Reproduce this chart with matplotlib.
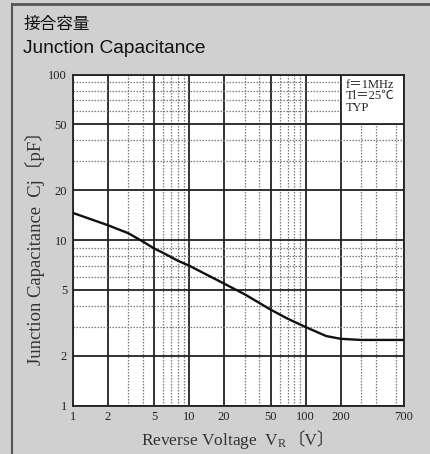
import matplotlib
matplotlib.use("Agg")
import matplotlib.pyplot as plt
from matplotlib.ticker import FixedLocator, NullFormatter, LogLocator
from matplotlib.patches import Rectangle

# data
voltage = [1, 2, 3, 4, 5, 6, 8, 10, 20, 30, 50, 70, 100, 150, 200, 300, 700]
capacitance = [14.6, 12.3, 11.0, 9.8, 8.9, 8.35, 7.5, 7.0, 5.45, 4.7, 3.8, 3.35, 2.98, 2.63, 2.53, 2.49, 2.49]
x_ticks = [1, 2, 5, 10, 20, 50, 100, 200, 700]
x_tick_labels = ["1", "2", "5", "10", "20", "50", "100", "200", "700"]
y_ticks = [1, 2, 5, 10, 20, 50, 100]
y_tick_labels = ["1", "2", "5", "10", "20", "50", "100"]
conditions = ["f＝1MHz", "Tl＝25℃", "TYP"]

plt.rcParams["mathtext.fontset"] = "custom"
plt.rcParams["mathtext.rm"] = "Liberation Serif"
plt.rcParams["mathtext.it"] = "Liberation Serif"

serif = ["Liberation Serif", "Noto Sans CJK JP", "DejaVu Serif"]
bg = "#d0d0d0"
W, H = 430, 454

fig = plt.figure(figsize=(W / 100, H / 100), dpi=100, facecolor=bg)
ax = fig.add_axes([0.169, 0.1068, 0.7705, 0.729])
ax.set_facecolor("white")
ax.set_xscale("log")
ax.set_yscale("log")
ax.set_xlim(1, 700)
ax.set_ylim(1, 100)

ax.xaxis.set_major_locator(FixedLocator(x_ticks))
ax.set_xticklabels(x_tick_labels)
ax.yaxis.set_major_locator(FixedLocator(y_ticks))
ax.set_yticklabels(y_tick_labels)
ax.xaxis.set_minor_locator(LogLocator(base=10, subs=[3, 4, 6, 7, 8, 9]))
ax.yaxis.set_minor_locator(LogLocator(base=10, subs=[3, 4, 6, 7, 8, 9]))
ax.xaxis.set_minor_formatter(NullFormatter())
ax.yaxis.set_minor_formatter(NullFormatter())
ax.tick_params(which="both", length=0)
ax.tick_params(axis="x", pad=4)
ax.tick_params(axis="y", pad=4)
for lab in ax.get_xticklabels() + ax.get_yticklabels():
    lab.set_family(serif)
    lab.set_fontsize(9)
    lab.set_color("#222222")

ax.set_axisbelow(True)
ax.grid(which="major", color="#222222", linewidth=1.3, linestyle="-")
ax.grid(which="minor", color="#7a7a7a", linewidth=0.9, linestyle=(0, (1.2, 1.2)))
for s in ax.spines.values():
    s.set_linewidth(1.3)
    s.set_color("#222222")

# white cell for the conditions text
ax.add_patch(Rectangle((200, 50), 500, 50, facecolor="white", edgecolor="#222222",
                       linewidth=1.3, zorder=0.8))

ax.plot(voltage, capacitance, color="#111111", linewidth=1.7, zorder=3)

ax.text(0.825, 0.988, "\n".join(conditions), transform=ax.transAxes, ha="left", va="top",
        fontsize=9, family=serif, color="#222222", linespacing=0.95, zorder=4)

fig.text(24 / W, 1 - 24 / H, "接合容量", family=["Noto Sans CJK JP", "DejaVu Sans"],
         fontsize=12, ha="left", va="center", color="#111111")
fig.text(23 / W, 1 - 53 / H, "Junction Capacitance", family=["Liberation Sans", "DejaVu Sans"],
         fontsize=13.8, ha="left", va="baseline", color="#111111")

# axis labels built from pieces (serif text + CJK brackets)
lab_color = "#333333"
xl1 = fig.text(0, 0, "Reverse Voltage  V$_\\mathregular{R}$", family=serif, fontsize=12,
               color=lab_color, ha="left", va="baseline")
xl2 = fig.text(0, 0, "〔V〕", family=serif, fontsize=12, color=lab_color,
               ha="left", va="baseline")
yl = fig.text(41 / W, 1 - 244 / H, "Junction Capacitance  Cj〔pF〕", family=serif, fontsize=12,
              color=lab_color, rotation=90, rotation_mode="anchor", ha="center", va="baseline")

fig.canvas.draw()
r = fig.canvas.get_renderer()

def fit(parts, target, horizontal):
    ext = [p.get_window_extent(r) for p in parts]
    L = sum(e.width if horizontal else e.height for e in ext)
    for p in parts:
        p.set_fontsize(p.get_fontsize() * target / L)

fit([xl1, xl2], 193, True)
fit([yl], 242, False)
fig.canvas.draw()
w1 = xl1.get_window_extent(r).width
w2 = xl2.get_window_extent(r).width
x0 = 238 - (w1 + w2) / 2
xl1.set_position((x0 / W, 1 - 445 / H))
xl2.set_position(((x0 + w1) / W, 1 - 445 / H))

# frame lines of the page
fig.add_artist(plt.Line2D([12 / W, 1], [1 - 4 / H, 1 - 4 / H], color="#555555",
                          linewidth=2, transform=fig.transFigure))
fig.add_artist(plt.Line2D([12 / W, 12 / W], [0, 1 - 4 / H], color="#555555",
                          linewidth=1.5, transform=fig.transFigure))

fig.savefig("out.png", dpi=100, facecolor=bg)
